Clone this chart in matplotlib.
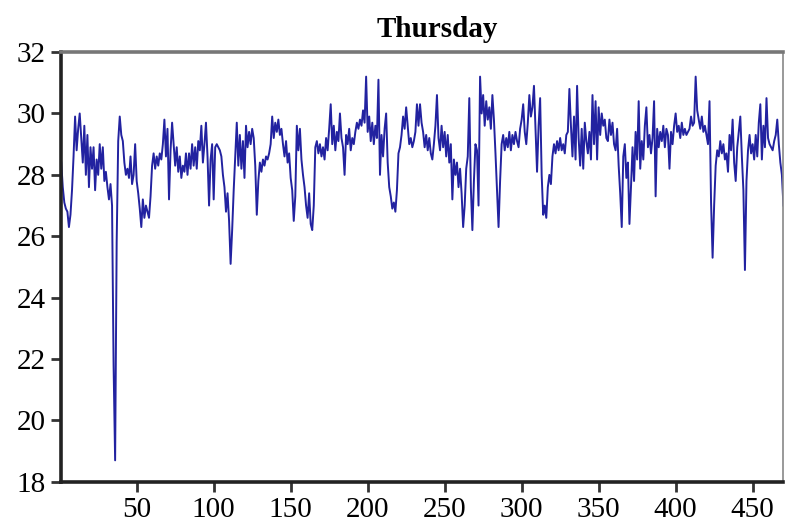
import matplotlib
matplotlib.use('Agg')
import matplotlib.pyplot as plt
import numpy as np

temp = [
    28.4, 27.6, 27.1, 26.9, 26.8, 26.3, 26.7, 27.5, 28.6, 29.9,
    28.8, 29.5, 30.0, 29.2, 28.4, 29.6, 28.0, 29.3, 27.6, 28.9,
    28.2, 28.9, 27.5, 28.5, 28.0, 29.0, 28.2, 28.9, 27.8, 28.1,
    27.6, 27.2, 27.7, 27.0, 21.8, 18.7, 25.8, 29.1, 29.9, 29.3,
    29.1, 28.4, 28.0, 28.2, 27.9, 28.6, 27.7, 28.0, 29.0, 27.8,
    27.4, 26.9, 26.3, 27.2, 26.6, 27.0, 26.8, 26.6, 27.3, 28.3,
    28.7, 28.2, 28.6, 28.3, 28.7, 28.5, 29.0, 29.8, 28.6, 29.5,
    27.2, 28.8, 29.7, 29.0, 28.3, 28.9, 28.1, 28.6, 27.9, 28.3,
    28.1, 28.7, 28.0, 28.7, 28.2, 29.0, 28.3, 28.9, 28.2, 29.1,
    28.8, 29.6, 28.4, 29.0, 29.7, 28.6, 27.0, 28.5, 29.0, 27.2,
    28.9, 29.0, 28.9, 28.8, 28.6, 28.0, 27.6, 26.8, 27.4, 26.5,
    25.1, 26.2, 27.5, 28.6, 29.7, 28.3, 29.3, 28.2, 29.1, 27.9,
    29.6, 28.9, 29.4, 29.0, 29.5, 29.2, 28.3, 26.7, 27.8, 28.4,
    28.1, 28.5, 28.3, 28.6, 28.5, 28.7, 29.0, 29.9, 29.2, 29.7,
    29.4, 29.8, 29.3, 29.5, 29.0, 28.6, 29.1, 28.4, 28.7, 27.9,
    27.5, 26.5, 27.3, 29.6, 28.8, 29.5, 28.5, 28.0, 27.6, 27.0,
    26.6, 27.4, 26.4, 26.2, 27.0, 28.9, 29.1, 28.7, 29.0, 28.6,
    28.9, 28.5, 29.2, 28.8, 29.5, 30.3, 29.0, 29.6, 28.8, 29.4,
    29.1, 30.0, 29.2, 28.9, 28.0, 29.3, 29.0, 29.5, 28.8, 29.2,
    29.0, 29.4, 29.7, 29.5, 29.8, 29.6, 30.1, 29.7, 31.2, 29.4,
    29.9, 29.1, 29.7, 29.0, 29.6, 29.2, 31.1, 28.0, 29.3, 28.6,
    29.5, 30.0, 28.4, 27.6, 27.3, 26.9, 27.1, 26.8, 27.5, 28.7,
    28.9, 29.3, 29.9, 29.5, 30.2, 29.6, 29.0, 29.2, 28.9, 29.1,
    29.4, 30.3, 29.6, 30.3, 29.7, 29.4, 28.9, 29.3, 28.8, 29.2,
    28.7, 28.5, 29.0, 29.6, 30.6, 29.2, 28.8, 29.6, 28.9, 29.4,
    28.6, 29.3, 28.4, 29.0, 27.2, 28.5, 28.0, 28.4, 27.6, 28.2,
    27.4, 26.3, 27.0, 28.2, 28.6, 30.5, 27.6, 26.2, 27.8, 29.0,
    28.8, 27.0, 31.2, 30.0, 30.6, 29.6, 30.4, 29.8, 30.2, 29.5,
    30.6, 29.8, 28.7, 27.5, 26.3, 27.8, 29.0, 29.3, 28.8, 29.2,
    28.9, 29.4, 28.8, 29.3, 29.0, 29.4, 29.1, 28.9, 29.5, 29.8,
    30.3, 29.4, 29.0, 29.7, 30.6, 29.9, 30.2, 30.9, 29.5, 28.1,
    29.6, 30.5, 28.0, 26.7, 27.0, 26.6, 27.6, 28.0, 27.7, 28.6,
    29.0, 28.7, 29.1, 28.8, 29.2, 28.8, 29.0, 28.7, 29.3, 29.4,
    30.8, 29.6, 28.6, 29.9, 28.5, 30.9, 29.2, 28.3, 29.5, 28.2,
    29.7, 29.1, 28.7, 29.4, 28.5, 30.6, 29.0, 30.4, 28.5, 30.2,
    29.3, 30.0, 29.6, 29.8, 29.2, 29.1, 29.8, 29.3, 29.7, 29.0,
    28.8, 29.5, 28.3, 27.4, 26.3, 28.6, 29.0, 27.9, 28.4, 26.4,
    27.6, 28.9, 27.8, 29.4, 28.5, 30.4, 28.2, 29.1, 28.5, 29.6,
    30.2, 28.9, 29.3, 28.7, 29.2, 30.4, 27.3, 29.5, 28.9, 29.4,
    29.1, 29.6, 28.9, 29.5, 29.3, 28.2, 29.4, 29.0, 29.6, 30.0,
    29.4, 29.6, 29.2, 29.7, 29.3, 29.5, 29.3, 29.4, 29.5, 29.9,
    29.6, 29.7, 31.2, 30.1, 29.8, 29.5, 29.9, 29.4, 29.6, 29.3,
    29.0, 30.4, 27.1, 25.3, 27.0, 28.3, 28.8, 28.6, 29.1, 28.7,
    29.0, 28.5, 28.7, 28.1, 29.3, 28.8, 29.8, 28.4, 27.8, 28.9,
    29.4, 29.9, 28.6, 27.5, 24.9, 27.8, 28.8, 29.3, 28.7, 29.0,
    28.5, 29.3, 28.6, 29.7, 30.3, 28.5, 29.6, 28.9, 30.5, 29.2,
    29.0, 28.9, 28.8, 29.1, 29.3, 29.8, 29.0, 28.4, 28.0, 27.0,
]
obs = np.arange(1, len(temp) + 1)
xticks = [50, 100, 150, 200, 250, 300, 350, 400, 450]
yticks = [18, 20, 22, 24, 26, 28, 30, 32]

plt.rcParams['font.family'] = ['Liberation Serif', 'DejaVu Serif']

fig = plt.figure(figsize=(7.85, 5.26), dpi=100)
ax = fig.add_axes([0.078, 0.084, 0.92, 0.817])

ax.plot(obs, temp, color='#2222a0', linewidth=1.4)

ax.set_xlim(1, len(temp))
ax.set_ylim(18, 32)
ax.set_xticks(xticks)
ax.set_yticks(yticks)
ax.tick_params(axis='both', direction='out', labelsize=21, width=2, length=7, color='#333333')
ax.tick_params(axis='x', pad=4)
ax.tick_params(axis='y', pad=4)

for side in ['left', 'bottom']:
    ax.spines[side].set_linewidth(2.6)
    ax.spines[side].set_color('#222222')
ax.spines['top'].set_linewidth(2.6)
ax.spines['top'].set_color('#777777')
ax.spines['right'].set_linewidth(1.2)
ax.spines['right'].set_color('#888888')

ax.set_title('Thursday', fontsize=21, fontweight='bold', x=0.52, pad=11)

plt.savefig('out.png', dpi=100)
